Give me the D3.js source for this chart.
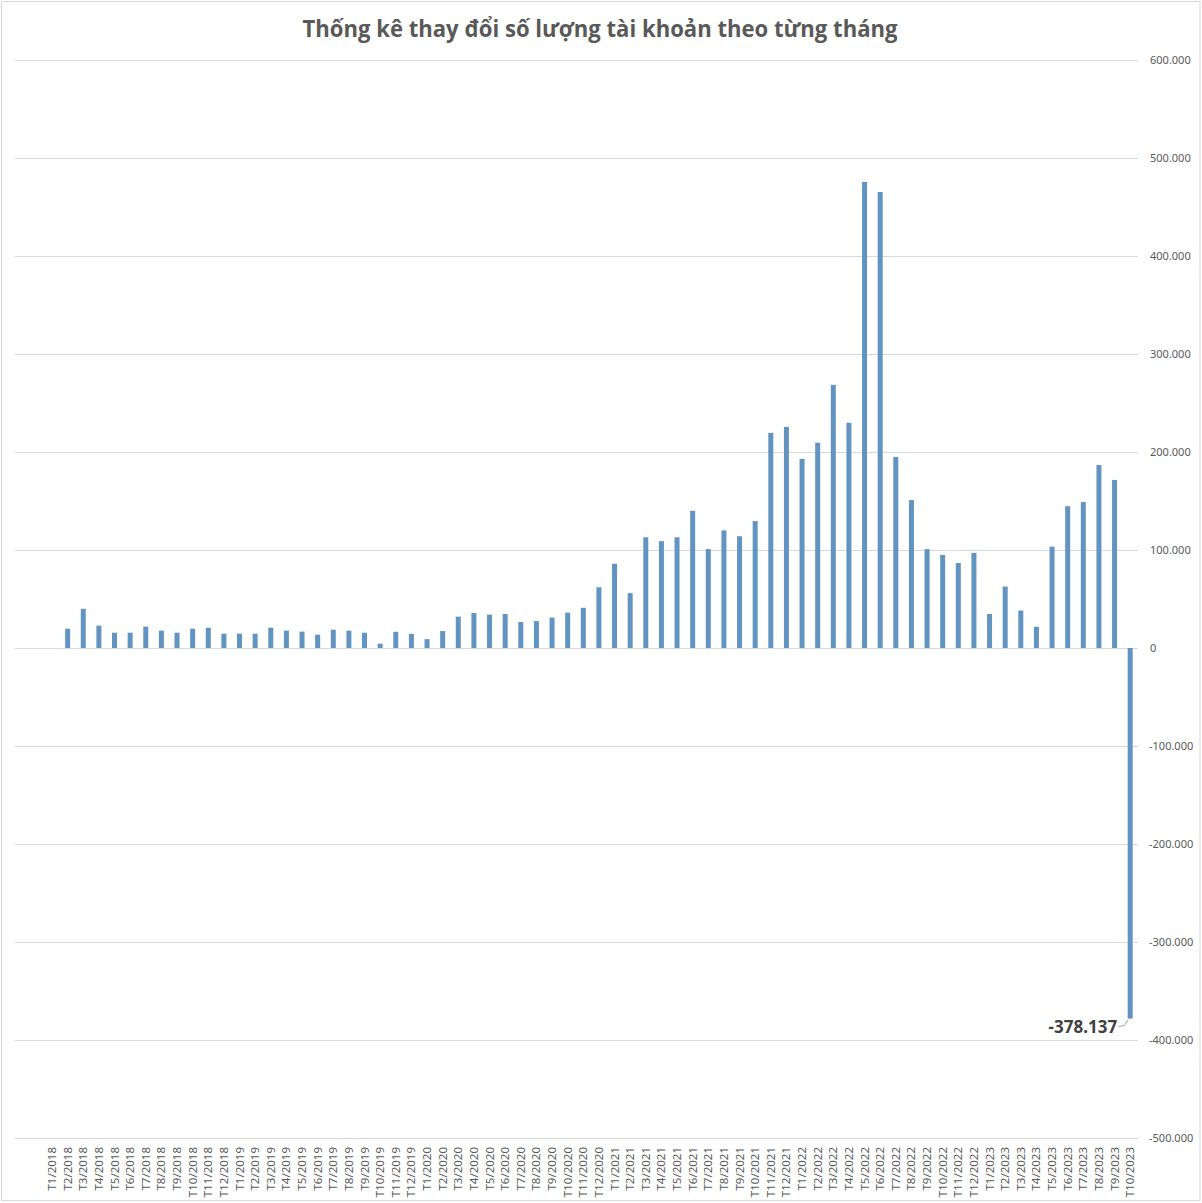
<!DOCTYPE html>
<html>
<head>
<meta charset="utf-8">
<script src="https://cdn.jsdelivr.net/npm/d3@7"></script>
<style>
  html, body { margin: 0; padding: 0; background: #fff; }
  svg { display: block; }
</style>
</head>
<body>
<svg id="chart" width="1202" height="1203"></svg>
<script>
const title = "Thống kê thay đổi số lượng tài khoản theo từng tháng";

const months = [
  "T1/2018","T2/2018","T3/2018","T4/2018","T5/2018","T6/2018","T7/2018","T8/2018","T9/2018","T10/2018","T11/2018","T12/2018",
  "T1/2019","T2/2019","T3/2019","T4/2019","T5/2019","T6/2019","T7/2019","T8/2019","T9/2019","T10/2019","T11/2019","T12/2019",
  "T1/2020","T2/2020","T3/2020","T4/2020","T5/2020","T6/2020","T7/2020","T8/2020","T9/2020","T10/2020","T11/2020","T12/2020",
  "T1/2021","T2/2021","T3/2021","T4/2021","T5/2021","T6/2021","T7/2021","T8/2021","T9/2021","T10/2021","T11/2021","T12/2021",
  "T1/2022","T2/2022","T3/2022","T4/2022","T5/2022","T6/2022","T7/2022","T8/2022","T9/2022","T10/2022","T11/2022","T12/2022",
  "T1/2023","T2/2023","T3/2023","T4/2023","T5/2023","T6/2023","T7/2023","T8/2023","T9/2023","T10/2023"
];

const accountChange = [
  null, 19700, 40000, 22800, 15600, 15600, 21800, 17700, 15600, 19700, 20700, 14600,
  14600, 14600, 20700, 17700, 16700, 13600, 18700, 17700, 15600, 4400, 16500, 14400,
  9000, 17300, 32000, 35700, 34000, 34700, 26500, 27500, 31000, 36000, 41000, 62000,
  86000, 56000, 113000, 109000, 113000, 140000, 101000, 120000, 114000, 129500, 219500, 225700,
  193000, 209500, 268500, 229800, 475600, 465300, 195000, 150900, 100900, 95000, 86700, 97100,
  34700, 62700, 38200, 21600, 103400, 144700, 148900, 186700, 171500, -378137
];

const yTicks = [600000, 500000, 400000, 300000, 200000, 100000, 0, -100000, -200000, -300000, -400000, -500000];

const labelledPoint = "T10/2023";

const svg = d3.select("#chart");
const W = 1202, H = 1203;

// outer border
svg.append("rect")
  .attr("x", 1.5).attr("y", 1.5)
  .attr("width", W - 3.5).attr("height", H - 4)
  .attr("fill", "#fff").attr("stroke", "#d9d9d9").attr("stroke-width", 1);

const plotLeft = 15, plotRight = 1138;
const x = d3.scaleBand().domain(months).range([44.2, plotRight]).paddingInner(0.68).paddingOuter(0.34);
const y = d3.scaleLinear().domain([-500000, 600000]).range([1138, 60]);

const fmt = v => d3.format(",")(v).replace(/,/g, ".").replace("−", "-");

// gridlines
svg.append("g").selectAll("line").data(yTicks).join("line")
  .attr("x1", plotLeft).attr("x2", plotRight)
  .attr("y1", d => Math.round(y(d)) + 0.5).attr("y2", d => Math.round(y(d)) + 0.5)
  .attr("stroke", "#d9d9d9").attr("stroke-width", 1);

// y labels (right side)
const yAxis = d3.axisRight(y).tickValues(yTicks).tickSize(0).tickPadding(0).tickFormat(fmt);
const yg = svg.append("g").attr("transform", "translate(1150,0)").call(yAxis);
yg.select(".domain").remove();
yg.selectAll("text")
  .attr("x", d => d < 0 ? -1 : 0)
  .attr("fill", "#595959")
  .style("font-family", "'Liberation Sans Narrow', 'Noto Sans', sans-serif")
  .style("font-size", "11px");

// bars
const data = months.map((m, i) => ({ m, v: accountChange[i] })).filter(d => d.v !== null);
svg.append("g").selectAll("rect").data(data).join("rect")
  .attr("x", d => x(d.m))
  .attr("width", x.bandwidth())
  .attr("y", d => y(Math.max(0, d.v)))
  .attr("height", d => Math.abs(y(d.v) - y(0)))
  .attr("fill", "#6294c2");

// x labels (rotated)
const xAxis = d3.axisBottom(x).tickSize(0).tickPadding(0);
const xg = svg.append("g").attr("transform", "translate(0,1147)").call(xAxis);
xg.select(".domain").remove();
xg.selectAll("text")
  .attr("transform", "rotate(-90)")
  .attr("x", 0).attr("y", 0).attr("dy", "0.35em")
  .attr("text-anchor", "end")
  .attr("fill", "#595959")
  .style("font-family", "'Liberation Sans Narrow', 'Noto Sans', sans-serif")
  .style("font-size", "11.5px");

// data label for last point
const lp = data.find(d => d.m === labelledPoint);
const bx = x(lp.m) + x.bandwidth() / 2;
const by = y(lp.v);
svg.append("path")
  .attr("d", `M${bx - 12},${by + 8} L${bx - 6},${by + 7} L${bx - 2},${by + 1}`)
  .attr("fill", "none").attr("stroke", "#a6a6a6").attr("stroke-width", 1);
svg.append("text")
  .attr("x", bx - 13).attr("y", by + 14)
  .attr("text-anchor", "end")
  .attr("fill", "#404040")
  .style("font-family", "'Noto Sans', sans-serif")
  .style("font-weight", "bold")
  .style("font-size", "17px")
  .text(fmt(lp.v));

// title
svg.append("text")
  .attr("x", 600).attr("y", 37)
  .attr("text-anchor", "middle")
  .attr("fill", "#595959")
  .attr("textLength", 595).attr("lengthAdjust", "spacingAndGlyphs")
  .style("font-family", "'Open Sans', 'Noto Sans', sans-serif")
  .style("font-weight", "bold")
  .style("font-size", "24px")
  .text(title);
</script>
</body>
</html>
